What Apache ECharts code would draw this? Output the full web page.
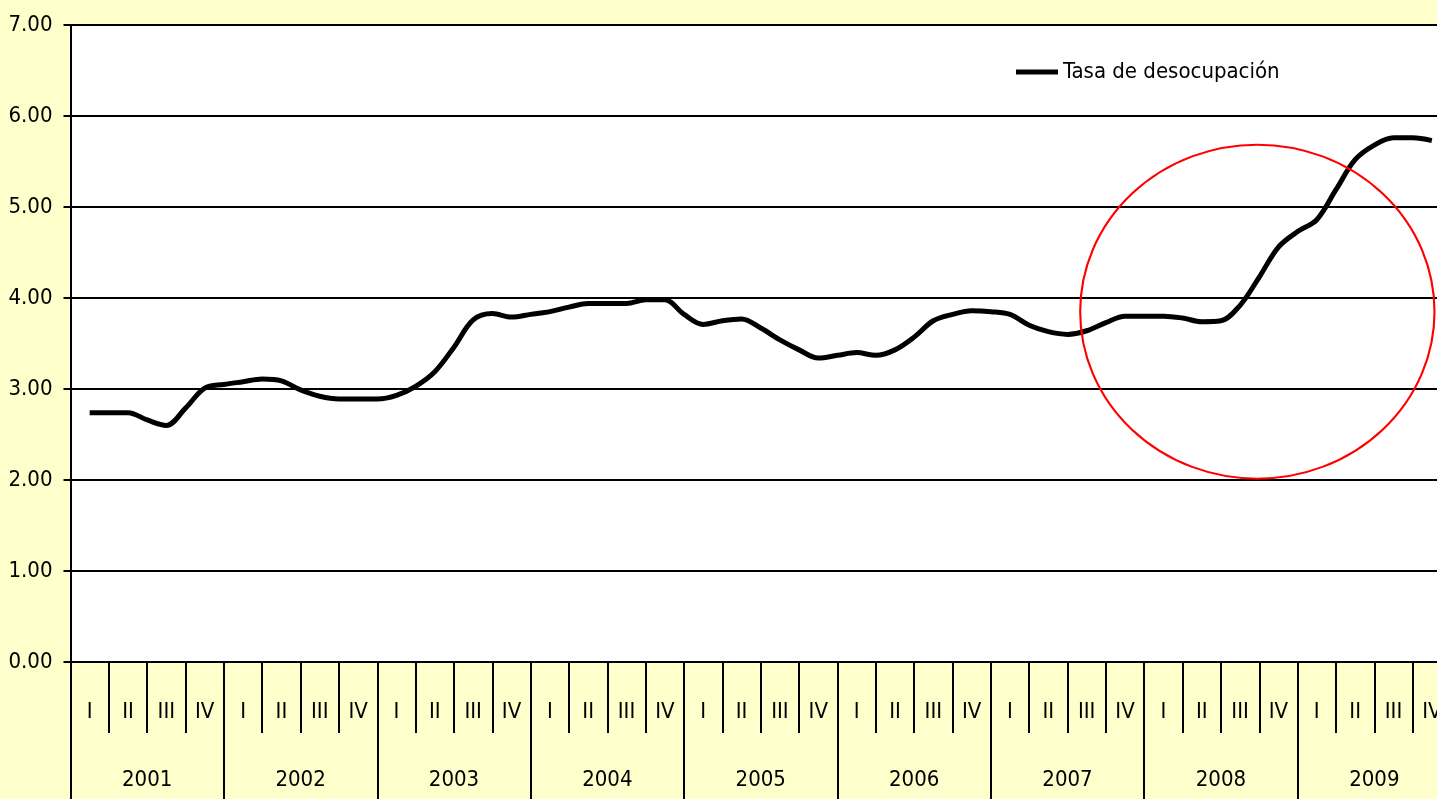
<!DOCTYPE html>
<html>
<head>
<meta charset="utf-8">
<title>Tasa de desocupación</title>
<script src="https://cdn.jsdelivr.net/npm/echarts@6/dist/echarts.min.js"></script>
<style>
  html, body { margin: 0; padding: 0; background: #ffffcc; overflow: hidden; }
  /* el grafico original esta recortado a la derecha */
  #chart { width: 1451px; height: 799px; }
</style>
</head>
<body>
<div id="chart"></div>
<script>
// años y trimestres del eje x
const years = ['2001', '2002', '2003', '2004', '2005', '2006', '2007', '2008', '2009']
const quarterNames = ['I', 'II', 'III', 'IV']
const quarterLabels = years.flatMap(() => quarterNames)

// tasa de desocupación, dos puntos por trimestre (medio y fin), desde el I-2001
const tasa = [
  2.74, 2.74, 2.74, 2.66, 2.60, 2.79, 3.01, 3.05, 3.08, 3.11,
  3.09, 2.99, 2.92, 2.89, 2.89, 2.89, 2.93, 3.03, 3.19, 3.46,
  3.76, 3.83, 3.79, 3.82, 3.85, 3.90, 3.94, 3.94, 3.94, 3.98,
  3.98, 3.82, 3.71, 3.75, 3.77, 3.67, 3.54, 3.43, 3.34, 3.37,
  3.40, 3.37, 3.43, 3.57, 3.75, 3.82, 3.86, 3.85, 3.82, 3.70,
  3.63, 3.60, 3.64, 3.73, 3.80, 3.80, 3.80, 3.78, 3.74, 3.75,
  3.92, 4.23, 4.56, 4.73, 4.86, 5.19, 5.52, 5.68, 5.76, 5.76,
  5.73
]

// eje y
const yTicks = [0, 1, 2, 3, 4, 5, 6, 7]

// circulo rojo (en unidades de trimestre / tasa)
const ellipseCenter = [30.95, 3.85]
const ellipseRadius = [4.62, 1.835]

const font = '"Liberation Sans Narrow", "Arial Narrow", "DejaVu Sans Condensed", sans-serif'
const fontSize = 22

const chart = echarts.init(document.getElementById('chart'))

chart.setOption({
  animation: false,
  backgroundColor: '#ffffcc',
  textStyle: { fontFamily: font, color: '#000' },
  grid: {
    left: 70.5,
    right: 0,
    top: 25,
    bottom: 137,
    show: true,
    backgroundColor: '#ffffff',
    borderWidth: 0
  },
  legend: {
    data: ['Tasa de desocupación'],
    left: 1011,
    top: 55,
    icon: 'rect',
    itemWidth: 42,
    itemHeight: 5,
    textStyle: { fontFamily: font, fontSize: fontSize, color: '#000', lineHeight: 24 }
  },
  xAxis: [
    {
      // posicion de los puntos, medida en trimestres
      type: 'value',
      min: 0,
      max: quarterLabels.length,
      show: false
    },
    {
      type: 'category',
      data: quarterLabels,
      position: 'bottom',
      boundaryGap: true,
      axisLine: { show: true, lineStyle: { color: '#000', width: 2 } },
      axisTick: { show: true, interval: 0, length: 71, lineStyle: { color: '#000', width: 2 } },
      axisLabel: { interval: 0, margin: 39, fontFamily: font, fontSize: fontSize, color: '#000' },
      splitLine: { show: false }
    },
    {
      type: 'category',
      data: years,
      position: 'bottom',
      boundaryGap: true,
      axisLine: { show: false },
      axisTick: { show: true, interval: 0, length: 140, lineStyle: { color: '#000', width: 2 } },
      axisLabel: { interval: 0, margin: 107, fontFamily: font, fontSize: fontSize, color: '#000' },
      splitLine: { show: false }
    }
  ],
  yAxis: {
    type: 'value',
    min: yTicks[0],
    max: yTicks[yTicks.length - 1],
    interval: 1,
    axisLine: { show: true, lineStyle: { color: '#000', width: 2 } },
    axisTick: { show: true, length: 7, lineStyle: { color: '#000', width: 2 } },
    axisLabel: {
      margin: 18,
      fontFamily: font,
      fontSize: fontSize,
      color: '#000',
      formatter: v => v.toFixed(2)
    },
    splitLine: { show: true, lineStyle: { color: '#000', width: 2 } }
  },
  series: [
    {
      name: 'Tasa de desocupación',
      type: 'line',
      xAxisIndex: 0,
      data: tasa.map((v, i) => [(i + 1) * 0.5, v]),
      smooth: 0.35,
      showSymbol: false,
      itemStyle: { color: '#000' },
      lineStyle: { color: '#000', width: 5 }
    }
  ]
})

// dibujar el circulo rojo sobre la crisis 2008-2009
const c = chart.convertToPixel({ xAxisIndex: 0, yAxisIndex: 0 }, ellipseCenter)
const e = chart.convertToPixel({ xAxisIndex: 0, yAxisIndex: 0 },
  [ellipseCenter[0] + ellipseRadius[0], ellipseCenter[1] + ellipseRadius[1]])
const rx = e[0] - c[0]
const ry = c[1] - e[1]
chart.setOption({
  graphic: [{
    type: 'circle',
    x: c[0],
    y: c[1],
    scaleX: rx / ry,
    shape: { cx: 0, cy: 0, r: ry },
    style: { fill: 'none', stroke: '#ff0000', lineWidth: 2, strokeNoScale: true },
    z: 100
  }]
})
</script>
</body>
</html>
